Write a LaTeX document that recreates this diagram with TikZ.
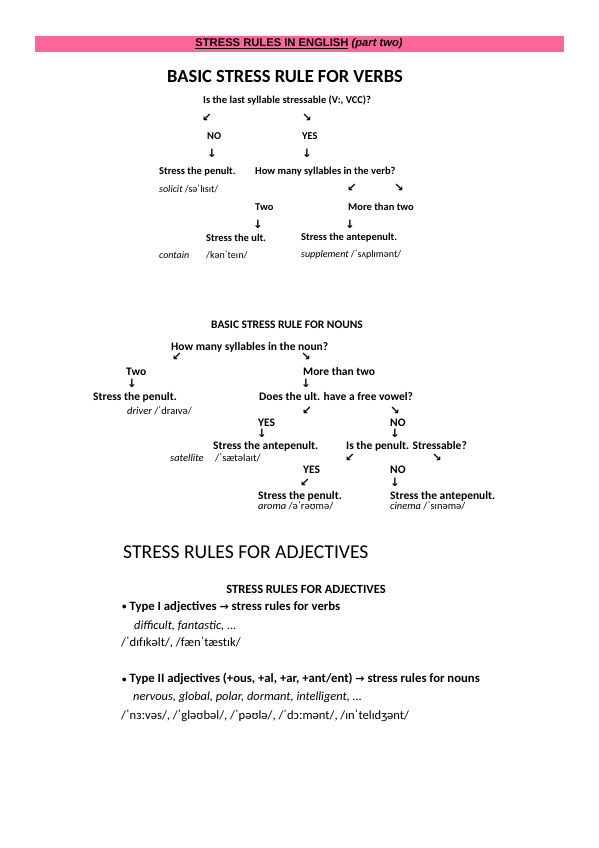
\documentclass[tikz,border=0pt]{standalone}
\usepackage{fontspec}
\setmainfont{Carlito}
\newfontfamily\arial{Liberation Sans}
\newfontfamily\arr{DejaVu Sans}
\definecolor{pinkbar}{RGB}{255,102,153}
\tikzset{
  t/.style={anchor=west, inner sep=0pt, font=\bfseries\fontsize{10.5}{12}\selectfont},
  ex/.style={anchor=west, inner sep=0pt, font=\fontsize{10}{12}\selectfont},
  ar/.style={inner sep=0pt, text height=7pt, text depth=0pt, font=\arr\bfseries\fontsize{11.5}{13}\selectfont},
  nt/.style={anchor=west, inner sep=0pt, font=\bfseries\fontsize{11.5}{13}\selectfont},
  nex/.style={anchor=west, inner sep=0pt, font=\fontsize{10.5}{12}\selectfont},
  adj/.style={anchor=west, inner sep=0pt, font=\bfseries\fontsize{12.7}{14}\selectfont},
  adjex/.style={anchor=west, inner sep=0pt, font=\fontsize{12.4}{14}\selectfont},
  adjipa/.style={anchor=west, inner sep=0pt, font=\fontsize{12.6}{14}\selectfont},
}
\newcommand{\smbul}{{\fontsize{9}{10}\selectfont\raisebox{0.1ex}{•}}\hspace{3pt}}
\newcommand{\rarr}{{\arr\bfseries\fontsize{11}{12}\selectfont →}}
\begin{document}
\begin{tikzpicture}[x=1pt,y=-1pt]
\useasboundingbox[fill=white] (0,0) rectangle (599,848);
% header
\fill[pinkbar] (35,36) rectangle (564,52);
\node[inner sep=0pt, font=\arial\bfseries\fontsize{11.2}{13}\selectfont] (hdr) at (299,44)
  {\underline{STRESS RULES IN ENGLISH} \textit{(part two)}};
% verbs
\node[inner sep=0pt, font=\bfseries\fontsize{18.5}{20}\selectfont] (vtitle) at (285,77) {BASIC STRESS RULE FOR VERBS};
\node[t] (vq) at (203,100) {Is the last syllable stressable (V:, VCC)?};
\node[ar] (va1) at (207,118) {↙};
\node[ar] (va2) at (307,118) {↘};
\node[t] (vno) at (207,136) {NO};
\node[t] (vyes) at (302,136) {YES};
\node[ar] (va3) at (212,154) {↓};
\node[ar] (va4) at (307,154) {↓};
\node[t] (vpen) at (159,172) {Stress the penult.};
\node[t] (vhow) at (255,172) {How many syllables in the verb?};
\node[ex] (vsol) at (159,189) {\textit{solicit} /səˈlɪsɪt/};
\node[ar] (va5) at (352,188) {↙};
\node[ar] (va6) at (399,188) {↘};
\node[t] (vtwo) at (255,207) {Two};
\node[t] (vmore) at (348,207) {More than two};
\node[ar] (va7) at (258,225) {↓};
\node[ar] (va8) at (350,225) {↓};
\node[t] (vult) at (206,238) {Stress the ult.};
\node[t] (vante) at (301,238) {Stress the antepenult.};
\node[ex] (vcon) at (159,255) {\textit{contain}};
\node[ex] (vconi) at (206,255) {/kənˈteɪn/};
\node[ex] (vsup) at (301,255) {\textit{supplement} /ˈsʌplɪmənt/};
% nouns
\node[inner sep=0pt, font=\bfseries\fontsize{11.5}{13}\selectfont] (ntitle) at (287,325) {BASIC STRESS RULE FOR NOUNS};
\node[nt] (nhow) at (171,347) {How many syllables in the noun?};
\node[ar] (na1) at (177,357) {↙};
\node[ar] (na2) at (306,357) {↘};
\node[nt] (ntwo) at (126,372) {Two};
\node[nt] (nmore) at (303,372) {More than two};
\node[ar] (na3) at (132,384) {↓};
\node[ar] (na4) at (306,384) {↓};
\node[nt] (npen) at (93,397) {Stress the penult.};
\node[nt] (nfree) at (259,397) {Does the ult. have a free vowel?};
\node[ex, font=\fontsize{10.5}{12}\selectfont] (ndri) at (127,411) {\textit{driver} /ˈdraɪvə/};
\node[ar] (na5) at (307,411) {↙};
\node[ar] (na6) at (395,411) {↘};
\node[nt] (nyes) at (258,423) {YES};
\node[nt] (nno) at (390,423) {NO};
\node[ar] (na7) at (262,434) {↓};
\node[ar] (na8) at (395,434) {↓};
\node[nt] (nante) at (213,446) {Stress the antepenult.};
\node[nt] (nis) at (346,446) {Is the penult. Stressable?};
\node[nex] (nsat) at (170,458) {\textit{satellite}};
\node[nex] (nsati) at (215,458) {/ˈsætəlaɪt/};
\node[ar] (na9) at (350,458) {↙};
\node[ar] (na10) at (437,458) {↘};
\node[nt] (nyes2) at (303,470) {YES};
\node[nt] (nno2) at (390,470) {NO};
\node[ar] (na11) at (305,483) {↙};
\node[ar] (na12) at (395,483) {↓};
\node[nt] (npen2) at (258,496) {Stress the penult.};
\node[nt] (nante2) at (390,496) {Stress the antepenult.};
\node[nex] (naro) at (258,506) {\textit{aroma} /əˈrəʊmə/};
\node[nex] (ncin) at (390,506) {\textit{cinema} /ˈsɪnəmə/};
% adjectives
\node[anchor=west, inner sep=0pt, font=\fontsize{19.6}{22}\selectfont] (atitle) at (123,552) {STRESS RULES FOR ADJECTIVES};
\node[inner sep=0pt, font=\bfseries\fontsize{12.5}{14}\selectfont] (atitle2) at (306,589) {STRESS RULES FOR ADJECTIVES};
\node[adj] (at1) at (122,607) {\smbul Type I adjectives \rarr{} stress rules for verbs};
\node[adjex] (ae1) at (134,626) {\textit{difficult, fantastic, ...}};
\node[adjipa] (ai1) at (121,643) {/ˈdɪfɪkəlt/, /fænˈtæstɪk/};
\node[adj] (at2) at (122,679) {\smbul Type II adjectives (+ous, +al, +ar, +ant/ent) \rarr{} stress rules for nouns};
\node[adjex] (ae2) at (133,697) {\textit{nervous, global, polar, dormant, intelligent, ...}};
\node[adjipa] (ai2) at (121,716) {/ˈnɜːvəs/, /ˈgləʊbəl/, /ˈpəʊlə/, /ˈdɔːmənt/, /ɪnˈtelɪdʒənt/};
\end{tikzpicture}
\end{document}
